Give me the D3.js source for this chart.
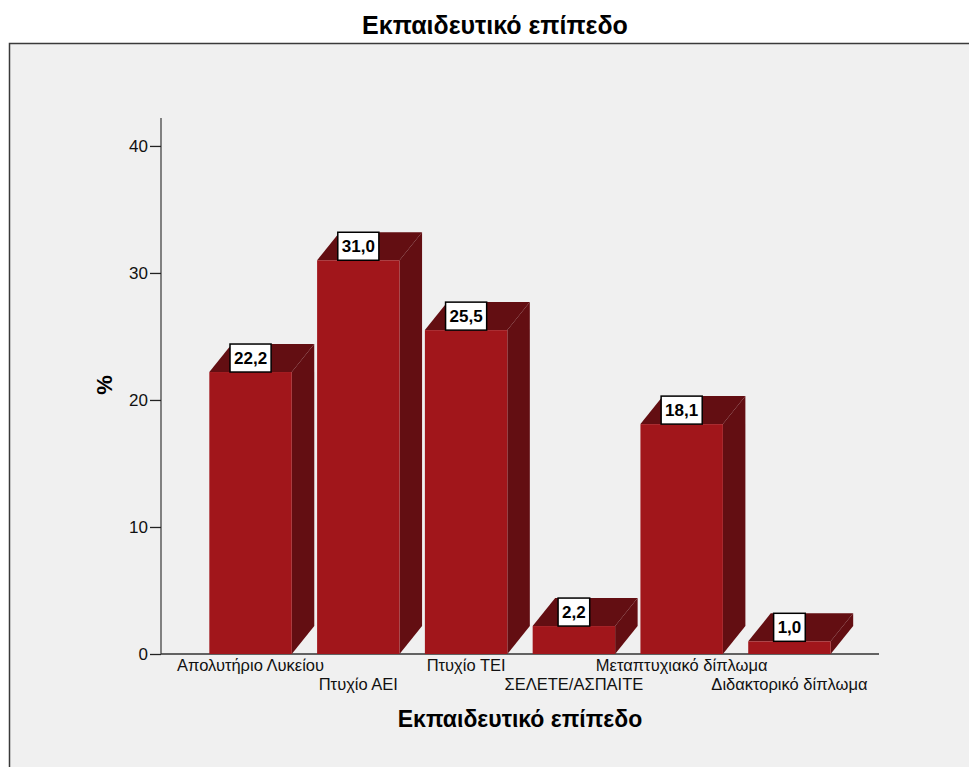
<!DOCTYPE html>
<html>
<head>
<meta charset="utf-8">
<script src="https://cdn.jsdelivr.net/npm/d3@7"></script>
<style>
  body { margin: 0; background: #fff; }
  text { font-family: "Liberation Sans", Arial, sans-serif; }
</style>
</head>
<body>
<div id="chart"></div>
<script>
// Chart data
var categories = ["Απολυτήριο Λυκείου", "Πτυχίο ΑΕΙ", "Πτυχίο ΤΕΙ", "ΣΕΛΕΤΕ/ΑΣΠΑΙΤΕ", "Μεταπτυχιακό δίπλωμα", "Διδακτορικό δίπλωμα"];
var percents = [22.2, 31.0, 25.5, 2.2, 18.1, 1.0];
var yTicks = [0, 10, 20, 30, 40];

var width = 969;
var height = 767;

// 3D depth of the bars
var depth = { x: 22.5, y: 28 };

var frontColor = "#a1161b";
var sideColor = "#630e12";

var fmt = d3.formatLocale({ decimal: ",", thousands: ".", grouping: [3], currency: ["", ""] }).format(".1f");

var svg = d3.select("#chart").append("svg")
  .attr("width", width)
  .attr("height", height);

// panel
svg.append("rect")
  .attr("x", 9.5)
  .attr("y", 43.5)
  .attr("width", 980)
  .attr("height", 740)
  .attr("fill", "#f0f0f0")
  .attr("stroke", "#3a3a3a")
  .attr("stroke-width", 1.5);

// title
svg.append("text")
  .attr("x", 495)
  .attr("y", 34)
  .attr("text-anchor", "middle")
  .style("font-size", "25px")
  .style("font-weight", "bold")
  .text("Εκπαιδευτικό επίπεδο");

var x = d3.scaleBand()
  .domain(categories)
  .range([184, 856])
  .padding(0.235);

var y = d3.scaleLinear()
  .domain([0, 42.2])
  .range([654, 118]);

// y axis
var yAxis = svg.append("g")
  .attr("transform", "translate(161,0)")
  .call(d3.axisLeft(y).tickValues(yTicks).tickSize(11).tickPadding(2).tickFormat(d3.format("d")));
yAxis.select(".domain").attr("stroke", "#444").attr("stroke-width", 1.3).attr("d", "M0," + y(0) + "V" + y.range()[1]);
yAxis.selectAll(".tick line").attr("stroke", "#222").attr("stroke-width", 1.3);
yAxis.selectAll(".tick text")
  .style("font-size", "17px")
  .style("font-family", "'Liberation Sans', Arial, sans-serif")
  .attr("fill", "#111");

// x axis baseline
svg.append("line")
  .attr("x1", 161)
  .attr("x2", 879)
  .attr("y1", y(0))
  .attr("y2", y(0))
  .attr("stroke", "#333")
  .attr("stroke-width", 1.3);

// bars
var bars = svg.append("g").selectAll("g")
  .data(percents)
  .enter().append("g");

// side face
bars.append("polygon")
  .attr("fill", sideColor)
  .attr("points", function(d, i) {
    var x1 = x(categories[i]) + x.bandwidth();
    return [
      [x1, y(d)],
      [x1 + depth.x, y(d) - depth.y],
      [x1 + depth.x, y(0) - depth.y],
      [x1, y(0)]
    ].join(" ");
  });

// top face
bars.append("polygon")
  .attr("fill", sideColor)
  .attr("points", function(d, i) {
    var x0 = x(categories[i]);
    var x1 = x0 + x.bandwidth();
    return [
      [x0, y(d)],
      [x0 + depth.x, y(d) - depth.y],
      [x1 + depth.x, y(d) - depth.y],
      [x1, y(d)]
    ].join(" ");
  });

// front face
bars.append("rect")
  .attr("x", function(d, i) { return x(categories[i]); })
  .attr("y", function(d) { return y(d); })
  .attr("width", x.bandwidth())
  .attr("height", function(d) { return y(0) - y(d); })
  .attr("fill", frontColor);

// value labels
bars.each(function(d, i) {
  var g = d3.select(this);
  var cx = x(categories[i]) + x.bandwidth() / 2;
  var t = g.append("text")
    .attr("x", cx)
    .attr("y", y(d) - depth.y / 2 + 6)
    .attr("text-anchor", "middle")
    .style("font-size", "17px")
    .style("font-weight", "bold")
    .text(fmt(d));
  var w = t.node().getComputedTextLength() + 8;
  g.insert("rect", "text")
    .attr("x", cx - w / 2)
    .attr("y", y(d) - depth.y)
    .attr("width", w)
    .attr("height", depth.y)
    .attr("fill", "#fff")
    .attr("stroke", "#000")
    .attr("stroke-width", 1.5);
});

// category labels, staggered on two rows
svg.append("g").selectAll("text")
  .data(categories)
  .enter().append("text")
  .attr("x", function(d) { return x(d) + x.bandwidth() / 2; })
  .attr("y", function(d, i) { return i % 2 === 0 ? 671 : 690; })
  .attr("text-anchor", "middle")
  .style("font-size", "16.5px")
  .attr("fill", "#111")
  .text(function(d) { return d; });

// axis titles
svg.append("text")
  .attr("x", 520)
  .attr("y", 727)
  .attr("text-anchor", "middle")
  .style("font-size", "23px")
  .style("font-weight", "bold")
  .text("Εκπαιδευτικό επίπεδο");

svg.append("text")
  .attr("transform", "translate(112,385) rotate(-90)")
  .attr("text-anchor", "middle")
  .style("font-size", "22px")
  .style("font-weight", "bold")
  .text("%");
</script>
</body>
</html>
